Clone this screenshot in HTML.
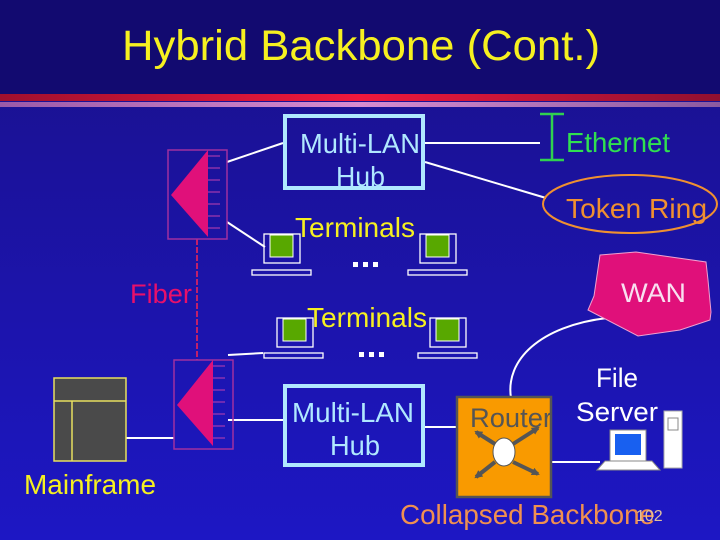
<!DOCTYPE html>
<html><head><meta charset="utf-8"><style>
html,body{margin:0;padding:0;width:720px;height:540px;overflow:hidden}
svg{display:block}
text{font-family:"Liberation Sans",sans-serif}
</style></head><body>
<svg width="720" height="540" viewBox="0 0 720 540">
<defs>
<linearGradient id="bg" x1="0" y1="0" x2="0" y2="1">
<stop offset="0" stop-color="#1a108a"/><stop offset="1" stop-color="#1d17c4"/>
</linearGradient>
<linearGradient id="red" x1="0" y1="0" x2="1" y2="0">
<stop offset="0" stop-color="#a0102e"/><stop offset="0.5" stop-color="#f0183c"/><stop offset="1" stop-color="#901030"/>
</linearGradient>
<linearGradient id="pink" x1="0" y1="0" x2="1" y2="0">
<stop offset="0" stop-color="#9a5aa8"/><stop offset="0.5" stop-color="#d88cd0"/><stop offset="1" stop-color="#8a5aa0"/>
</linearGradient>
<marker id="ar" markerWidth="8" markerHeight="8" refX="6" refY="4" orient="auto" markerUnits="userSpaceOnUse"><path d="M0,0 L8,4 L0,8 z" fill="#555"/></marker>
</defs>
<rect width="720" height="540" fill="url(#bg)"/>
<rect width="720" height="94" fill="#120a70"/>
<rect y="94" width="720" height="7" fill="url(#red)"/>
<rect y="102" width="720" height="5" fill="url(#pink)"/>
<text x="122" y="60" font-size="43" fill="#f6f020" textLength="478" lengthAdjust="spacingAndGlyphs">Hybrid Backbone (Cont.)</text>

<g stroke="#fff" stroke-width="2" fill="none">
<line x1="227" y1="162" x2="283" y2="143"/>
<line x1="227" y1="222" x2="265" y2="247"/>
<line x1="425" y1="143" x2="540" y2="143"/>
<line x1="425" y1="162" x2="546" y2="198"/>
<line x1="228" y1="355" x2="263" y2="353"/>
<line x1="126" y1="438" x2="174" y2="438"/>
<line x1="228" y1="420" x2="283" y2="420"/>
<line x1="425" y1="427" x2="457" y2="427"/>
<line x1="551" y1="462" x2="600" y2="462"/>
<path d="M607,318 C540,326 505,360 511,398"/>
</g>
<line x1="197" y1="239" x2="197" y2="360" stroke="#c0206a" stroke-width="2" stroke-dasharray="6,2"/>

<g>
<rect x="168" y="150" width="59" height="89" fill="none" stroke="#a030a0" stroke-width="1.5"/>
<polygon points="171,195 208,150 208,237" fill="#e0107a"/>
<g stroke="#c040b0" stroke-width="1"><line x1="208" y1="156" x2="220" y2="156"/><line x1="208" y1="168" x2="220" y2="168"/><line x1="208" y1="180" x2="220" y2="180"/><line x1="208" y1="192" x2="220" y2="192"/><line x1="208" y1="204" x2="220" y2="204"/><line x1="208" y1="216" x2="220" y2="216"/><line x1="208" y1="228" x2="220" y2="228"/></g>
</g>
<g>
<rect x="174" y="360" width="59" height="89" fill="none" stroke="#a030a0" stroke-width="1.5"/>
<polygon points="177,405 213,360 213,446" fill="#e0107a"/>
<g stroke="#c040b0" stroke-width="1"><line x1="213" y1="366" x2="225" y2="366"/><line x1="213" y1="378" x2="225" y2="378"/><line x1="213" y1="390" x2="225" y2="390"/><line x1="213" y1="402" x2="225" y2="402"/><line x1="213" y1="414" x2="225" y2="414"/><line x1="213" y1="426" x2="225" y2="426"/><line x1="213" y1="438" x2="225" y2="438"/></g>
</g>
<text x="130" y="303" font-size="27" fill="#e8106a" textLength="62" lengthAdjust="spacingAndGlyphs">Fiber</text>

<rect x="54" y="378" width="72" height="83" fill="#4a4a4a" stroke="#e8e060" stroke-width="1.5"/>
<line x1="54" y1="401" x2="126" y2="401" stroke="#e8e060" stroke-width="1.5"/>
<line x1="72" y1="401" x2="72" y2="461" stroke="#e8e060" stroke-width="1.5"/>
<text x="24" y="494" font-size="28" fill="#f6f020" textLength="132" lengthAdjust="spacingAndGlyphs">Mainframe</text>

<rect x="285" y="116" width="138" height="72" fill="none" stroke="#b0e8ff" stroke-width="4"/>
<text x="300" y="153" font-size="28" fill="#b0e8ff" textLength="120" lengthAdjust="spacingAndGlyphs">Multi-LAN</text>
<text x="336" y="186" font-size="28" fill="#b0e8ff" textLength="49" lengthAdjust="spacingAndGlyphs">Hub</text>
<rect x="285" y="386" width="138" height="79" fill="none" stroke="#b0e8ff" stroke-width="4"/>
<text x="292" y="422" font-size="28" fill="#b0e8ff" textLength="122" lengthAdjust="spacingAndGlyphs">Multi-LAN</text>
<text x="330" y="455" font-size="28" fill="#b0e8ff" textLength="50" lengthAdjust="spacingAndGlyphs">Hub</text>

<g fill="none" stroke="#fff" stroke-width="1.3">
<rect x="264" y="234" width="36" height="29"/><rect x="252" y="270" width="59" height="5"/>
<rect x="420" y="234" width="36" height="29"/><rect x="408" y="270" width="59" height="5"/>
<rect x="277" y="318" width="36" height="29"/><rect x="264" y="353" width="59" height="5"/>
<rect x="430" y="318" width="36" height="29"/><rect x="418" y="353" width="59" height="5"/>
</g>
<g fill="#58a800" stroke="#fff" stroke-width="1">
<rect x="270" y="235" width="23" height="22"/><rect x="426" y="235" width="23" height="22"/>
<rect x="283" y="319" width="23" height="22"/><rect x="436" y="319" width="23" height="22"/>
</g>
<text x="295" y="237" font-size="28" fill="#f6f020" textLength="120" lengthAdjust="spacingAndGlyphs">Terminals</text>
<text x="307" y="327" font-size="28" fill="#f6f020" textLength="120" lengthAdjust="spacingAndGlyphs">Terminals</text>
<g fill="#fff"><rect x="353" y="262" width="5" height="5"/><rect x="363" y="262" width="5" height="5"/><rect x="373" y="262" width="5" height="5"/>
<rect x="359" y="352" width="5" height="5"/><rect x="369" y="352" width="5" height="5"/><rect x="379" y="352" width="5" height="5"/></g>

<g stroke="#30d050" stroke-width="2.5"><line x1="552" y1="114" x2="552" y2="160"/><line x1="540" y1="114" x2="564" y2="114"/><line x1="540" y1="160" x2="564" y2="160"/></g>
<text x="566" y="152" font-size="28" fill="#30e050" textLength="104" lengthAdjust="spacingAndGlyphs">Ethernet</text>
<ellipse cx="630" cy="204" rx="87" ry="29" fill="none" stroke="#f09030" stroke-width="2"/>
<text x="566" y="218" font-size="28" fill="#f09030" textLength="141" lengthAdjust="spacingAndGlyphs">Token Ring</text>

<polygon points="600,255 636,252 706,262 708,280 711,312 710,320 680,330 638,336 588,310 594,296" fill="#e0107a" stroke="#f0a0d0" stroke-width="1"/>
<text x="621" y="302" font-size="27" fill="#f8e0f0" textLength="65" lengthAdjust="spacingAndGlyphs">WAN</text>

<rect x="457" y="397" width="94" height="100" fill="#f99a00" stroke="#555" stroke-width="2.5"/>
<text x="470" y="427" font-size="27" fill="#555" textLength="82" lengthAdjust="spacingAndGlyphs">Router</text>
<g stroke="#555" stroke-width="4" marker-end="url(#ar)">
<line x1="495" y1="444" x2="476" y2="432"/><line x1="513" y1="444" x2="538" y2="428"/>
<line x1="495" y1="462" x2="476" y2="477"/><line x1="513" y1="462" x2="538" y2="474"/>
</g>
<ellipse cx="504" cy="452" rx="11" ry="14" fill="#fff" stroke="#555" stroke-width="1"/>

<text x="596" y="387" font-size="27" fill="#fff" textLength="42" lengthAdjust="spacingAndGlyphs">File</text>
<text x="576" y="421" font-size="27" fill="#fff" textLength="82" lengthAdjust="spacingAndGlyphs">Server</text>
<rect x="610" y="430" width="36" height="31" fill="#fff" stroke="#888"/>
<rect x="615" y="434" width="26" height="21" fill="#1860f0"/>
<polygon points="605,461 652,461 660,470 597,470" fill="#fff" stroke="#888"/>
<rect x="664" y="411" width="18" height="57" fill="#fff" stroke="#aaa"/>
<rect x="668" y="418" width="10" height="12" fill="none" stroke="#888"/>

<text x="400" y="524" font-size="28" fill="#f09050" textLength="255" lengthAdjust="spacingAndGlyphs">Collapsed Backbone</text>
<text x="636" y="521" font-size="16" fill="#e0c0a0">102</text>
</svg>
</body></html>
